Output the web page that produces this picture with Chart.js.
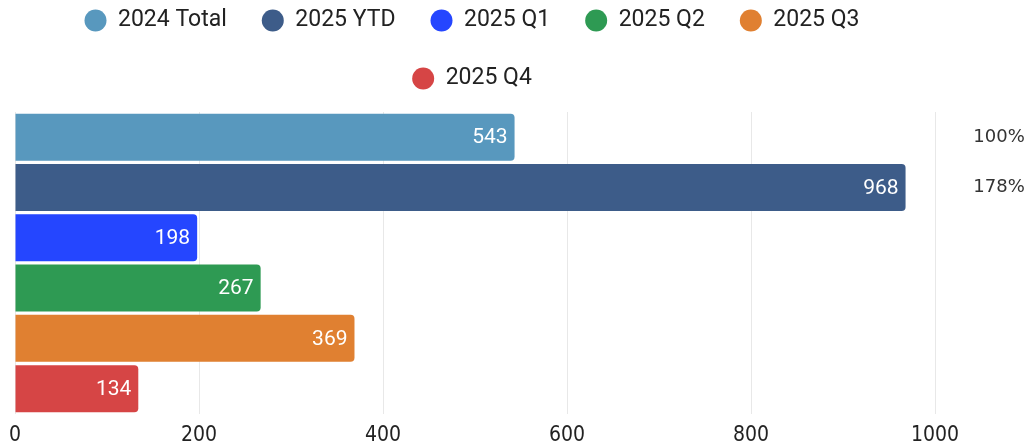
<!DOCTYPE html>
<html>
<head>
<meta charset="utf-8">
<script src="https://cdn.jsdelivr.net/npm/chart.js@4"></script>
<style>
  html, body { margin: 0; padding: 0; background: #fff; }
  #wrap { width: 1030px; height: 446px; }
</style>
</head>
<body>
<div id="wrap"><canvas id="salesChart"></canvas></div>
<script>
const seriesNames = ['2024 Total', '2025 YTD', '2025 Q1', '2025 Q2', '2025 Q3', '2025 Q4'];
const seriesValues = [543, 968, 198, 267, 369, 134];
const seriesColors = ['#5898be', '#3d5c89', '#2546ff', '#2e9a53', '#e08031', '#d64545'];
const percentSeries = [0, 1]; // compared against 2024 Total
const tickValues = [0, 200, 400, 600, 800, 1000];

// white value at the end of each bar + percentages on the right
const barLabels = {
  id: 'barLabels',
  afterDatasetsDraw(chart) {
    const ctx = chart.ctx;
    const area = chart.chartArea;
    ctx.save();
    ctx.textBaseline = 'middle';
    chart.data.datasets.forEach((ds, i) => {
      const meta = chart.getDatasetMeta(i);
      if (meta.hidden) return;
      meta.data.forEach((bar, j) => {
        ctx.font = '400 21px Roboto';
        ctx.fillStyle = '#ffffff';
        ctx.textAlign = 'right';
        ctx.fillText(ds.data[j], bar.x - 7, bar.y + 1);
        if (percentSeries.includes(i)) {
          const pct = Math.round(ds.data[j] / seriesValues[0] * 100);
          ctx.font = '400 18px "DejaVu Sans"';
          ctx.fillStyle = '#333333';
          ctx.textAlign = 'center';
          ctx.fillText(pct + '%', area.right + 64, bar.y);
        }
      });
    });
    ctx.restore();
  }
};

// push the plot down a bit below the legend
const legendGap = {
  id: 'legendGap',
  beforeInit(chart) {
    const fit = chart.legend.fit;
    chart.legend.fit = function () {
      fit.bind(chart.legend)();
      this.height += 12;
    };
  }
};

const datasets = seriesNames.map((name, i) => ({
  label: name,
  data: [seriesValues[i]],
  backgroundColor: seriesColors[i],
  borderRadius: 4,
  borderSkipped: 'start',
  categoryPercentage: 1,
  barPercentage: 0.935
}));

new Chart(document.getElementById('salesChart'), {
  type: 'bar',
  data: { labels: [''], datasets: datasets },
  options: {
    indexAxis: 'y',
    responsive: true,
    maintainAspectRatio: false,
    animation: false,
    layout: { padding: { top: -26, right: 95, left: 9, bottom: -11 } },
    plugins: {
      legend: {
        position: 'top',
        labels: {
          usePointStyle: true,
          pointStyle: 'circle',
          pointStyleWidth: 22,
          boxHeight: 15.5,
          padding: 35,
          color: '#222',
          font: { family: 'Roboto', size: 23 }
        }
      },
      tooltip: { enabled: false }
    },
    scales: {
      x: {
        min: 0,
        max: 1000,
        afterBuildTicks(axis) { axis.ticks = tickValues.map(v => ({ value: v })); },
        grid: { color: '#e8e8e8', drawTicks: false },
        border: { display: false },
        ticks: {
          padding: 9,
          color: '#222',
          callback: v => String(v),
          font: { family: '"DejaVu Sans Condensed", "DejaVu Sans", sans-serif', size: 21 }
        }
      },
      y: {
        display: false
      }
    }
  },
  plugins: [barLabels, legendGap]
});
</script>
</body>
</html>
